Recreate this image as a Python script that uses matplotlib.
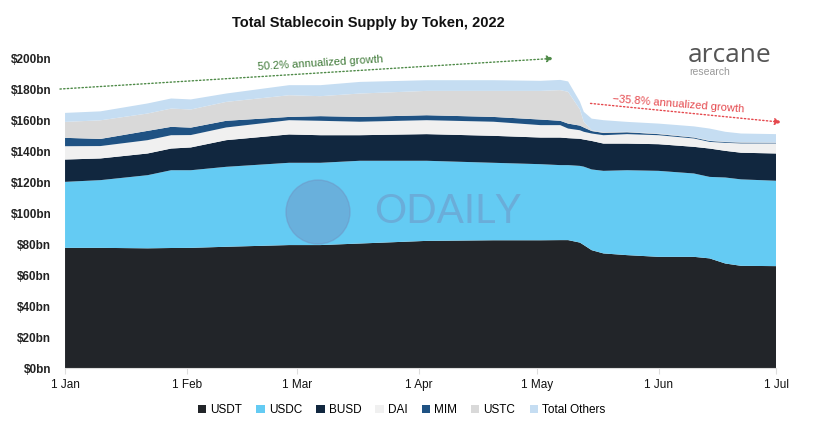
import matplotlib.pyplot as plt
from matplotlib.patches import Ellipse
import pandas as pd

# days since 1 Jan 2022 at which values were read
days = [0, 9, 21, 27, 32, 41, 57, 65, 75, 92, 109, 121, 126, 128, 131, 132,
        134, 137, 143, 151, 160, 164, 168, 172, 181]

# supply in $bn per token
usdt = [77.6, 77.6, 77.3, 77.5, 77.6, 78.3, 79.4, 79.4, 80.4, 82.1, 82.5, 82.5, 82.6,
        82.6, 81.0, 79.4, 76.1, 74.0, 72.9, 71.8, 71.8, 70.8, 67.5, 66.0, 65.8]
usdc = [42.6, 43.7, 47.2, 50.2, 50.1, 51.6, 53.1, 53.1, 53.4, 51.7, 50.0, 49.1, 48.4,
        48.4, 49.5, 50.6, 52.1, 53.3, 54.8, 55.5, 53.8, 52.6, 55.5, 55.8, 55.1]
busd = [14.4, 14.0, 14.0, 14.0, 14.7, 17.2, 18.3, 17.8, 16.5, 17.2, 17.4, 17.2, 17.8,
        17.4, 17.5, 17.5, 18.4, 17.6, 17.2, 17.2, 17.2, 18.3, 17.2, 17.2, 17.6]
dai = [8.6, 8.0, 8.6, 8.6, 8.0, 8.2, 9.2, 9.3, 8.7, 9.0, 9.1, 8.0, 8.0,
       6.2, 5.5, 5.0, 4.8, 5.4, 6.1, 5.8, 5.4, 4.3, 5.2, 6.0, 6.5]
mim = [5.4, 4.6, 6.0, 5.4, 4.8, 4.3, 2.1, 3.0, 3.1, 3.2, 3.1, 3.6, 2.8,
       3.2, 3.0, 2.8, 1.6, 1.5, 1.2, 0.7, 0.6, 0.6, 0.5, 0.5, 0.4]
ustc = [10.3, 12.0, 11.2, 11.8, 11.7, 12.2, 14.0, 12.9, 15.1, 15.7, 16.8, 18.5, 19.8,
        20.5, 10.5, 3.6, 0.5, 0.5, 0.3, 0.4, 0.3, 0.3, 0.3, 0.3, 0.2]
others = [5.8, 5.8, 6.5, 6.5, 6.5, 5.4, 6.5, 7.1, 7.5, 6.9, 6.9, 6.5, 6.6,
          6.7, 5.0, 6.5, 7.5, 7.7, 6.4, 6.4, 6.9, 7.7, 6.3, 5.6, 5.4]

labels = ['USDT', 'USDC', 'BUSD', 'DAI', 'MIM', 'USTC', 'Total Others']
colors = ['#222529', '#64CBF3', '#11273F', '#F0F0F0', '#1F5283', '#D9D9D9', '#C5DDF2']

yticks = [0, 20, 40, 60, 80, 100, 120, 140, 160, 180, 200]
month_labels = ['1 Jan', '1 Feb', '1 Mar', '1 Apr', '1 May', '1 Jun', '1 Jul']

plt.rcParams['font.family'] = ['Liberation Sans', 'DejaVu Sans']

start = pd.Timestamp('2022-01-01')
dates = [start + pd.Timedelta(days=d) for d in days]

fig = plt.figure(figsize=(8.13, 4.28), dpi=100)
ax = fig.add_axes([0.080, 0.140, 0.875, 0.724])

ax.stackplot(dates, usdt, usdc, busd, dai, mim, ustc, others,
             labels=labels, colors=colors, linewidth=0)

ax.set_xlim(start, pd.Timestamp('2022-07-01'))
ax.set_ylim(0, 200)

month_ticks = pd.date_range('2022-01-01', '2022-07-01', freq='MS')
ax.set_xticks(month_ticks)
ax.set_xticklabels(month_labels, fontsize=8.5, color='#111111')
ax.set_yticks(yticks)
ax.set_yticklabels([f'${v}bn' for v in yticks], fontsize=8.5, fontweight='bold',
                   color='#222222')
ax.tick_params(axis='y', length=0, pad=10)
ax.tick_params(axis='x', length=4, color='#dddddd', pad=4)
for s in ['top', 'right', 'left']:
    ax.spines[s].set_visible(False)
ax.spines['bottom'].set_color('#dddddd')

# watermark
wm = '#7090C0'
fig.patches.append(Ellipse((318 / 813, 1 - 212 / 428), 64 / 813, 64 / 428,
                           transform=fig.transFigure, color=wm, alpha=0.45, zorder=5))
fig.text(0.551, 0.505, 'ODAILY', fontsize=29, color=wm, alpha=0.5,
         ha='center', va='center', family='Lato')

# growth annotations
ax.annotate('', xy=(start + pd.Timedelta(days=125), 200),
            xytext=(start - pd.Timedelta(days=2), 180),
            arrowprops=dict(arrowstyle='-|>', linestyle=':', color='#4E8A47', lw=1),
            annotation_clip=False)
ax.text(start + pd.Timedelta(days=65), 197, '50.2% annualized growth', fontsize=8,
        color='#3F7A38', rotation=3.5, ha='center', va='center')
ax.annotate('', xy=(start + pd.Timedelta(days=183), 158.5),
            xytext=(start + pd.Timedelta(days=133), 171),
            arrowprops=dict(arrowstyle='-|>', linestyle=':', color='#E5484D', lw=1),
            annotation_clip=False)
ax.text(start + pd.Timedelta(days=156), 170.5, '\u221235.8% annualized growth', fontsize=8,
        color='#E5484D', rotation=-4.5, ha='center', va='center')

# arcane research logo
fig.text(0.846, 0.855, 'arcane', fontsize=19, color='#555555', ha='left', va='baseline',
         family='Open Sans')
fig.text(0.848, 0.832, 'research', fontsize=7.5, color='#999999', ha='left', va='center')

fig.text(0.453, 0.946, 'Total Stablecoin Supply by Token, 2022', fontsize=10.5,
         fontweight='bold', ha='center', va='center', color='#111111')

fig.legend(loc='center', bbox_to_anchor=(0.494, 0.042), ncol=7, frameon=False,
           fontsize=8.5, handlelength=0.7, handleheight=0.7, handletextpad=0.35,
           columnspacing=1.2)

fig.savefig('out.png', dpi=100)
